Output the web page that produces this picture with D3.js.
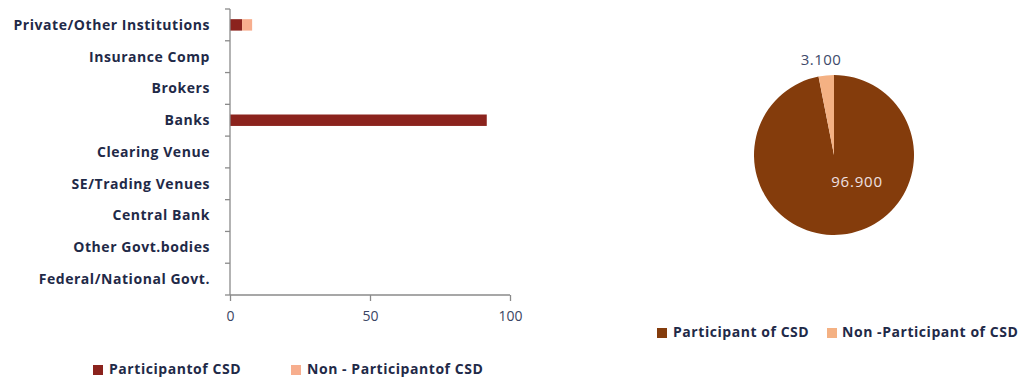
<!DOCTYPE html>
<html>
<head>
<meta charset="utf-8">
<script src="https://cdn.jsdelivr.net/npm/d3@7"></script>
<style>
  html, body { margin: 0; padding: 0; background: #fff; }
  svg { display: block; }
  text { font-family: "Open Sans", Lato, sans-serif; }
</style>
</head>
<body>
<svg id="chart" width="1025" height="380"></svg>
<script>
// Institution categories, top to bottom
const categories = [
  "Private/Other Institutions",
  "Insurance Comp",
  "Brokers",
  "Banks",
  "Clearing Venue",
  "SE/Trading Venues",
  "Central Bank",
  "Other Govt.bodies",
  "Federal/National Govt."
];
const participantValues    = [4.3, 0, 0, 91.7, 0, 0, 0, 0, 0];
const nonParticipantValues = [3.6, 0, 0, 0, 0, 0, 0, 0, 0];
const xTicks = [0, 50, 100];
const barLegend = ["Participantof CSD", "Non - Participantof CSD"];

// Pie shares
const pieLabels = ["Participant of CSD", "Non -Participant of CSD"];
const pieValues = [96.9, 3.1];

const barColors = ["#8B231D", "#F7AE8E"];
const pieColors = ["#843C0C", "#F4B183"];
const textColor = "#1F2A48";
const labelSize = 14, labelSpacing = 0.55;

const svg = d3.select("#chart");

// ---------- Horizontal stacked bar chart ----------
const bx0 = 230, bx1 = 510, by0 = 9, by1 = 295;
const x = d3.scaleLinear().domain([0, 100]).range([bx0, bx1]);
const y = d3.scaleBand().domain(categories).range([by0, by1]).paddingInner(0.64).paddingOuter(0.32);

const stackData = categories.map((c, i) => ({ cat: c, p: participantValues[i], n: nonParticipantValues[i] }));
const stack = d3.stack().keys(["p", "n"])(stackData);

const bars = svg.append("g");
stack.forEach((layer, li) => {
  bars.selectAll(null).data(layer).enter().append("rect")
    .attr("x", d => x(d[0]))
    .attr("y", d => y(d.data.cat))
    .attr("width", d => Math.max(0, x(d[1]) - x(d[0])))
    .attr("height", y.bandwidth())
    .attr("fill", barColors[li]);
});

// Category axis with tick marks between bands
const band = (by1 - by0) / categories.length;
const yAxisG = svg.append("g");
yAxisG.append("line").attr("x1", bx0).attr("x2", bx0).attr("y1", by0).attr("y2", by1)
  .attr("stroke", "#8a8a8a").attr("stroke-width", 1.3);
d3.range(categories.length + 1).forEach(i => {
  yAxisG.append("line").attr("x1", bx0 - 5).attr("x2", bx0).attr("y1", by0 + i * band).attr("y2", by0 + i * band)
    .attr("stroke", "#8a8a8a").attr("stroke-width", 1.3);
});
yAxisG.selectAll("text.cat").data(categories).enter().append("text")
  .attr("class", "cat")
  .attr("x", 210)
  .attr("y", (d, i) => by0 + (i + 0.5) * band)
  .attr("dy", "0.35em")
  .attr("text-anchor", "end")
  .attr("font-size", labelSize)
  .attr("letter-spacing", labelSpacing)
  .attr("font-weight", 700)
  .attr("fill", textColor)
  .text(d => d);

// Value axis
const xAxis = d3.axisBottom(x).tickValues(xTicks).tickSize(6).tickFormat(d3.format("d"));
const xAxisG = svg.append("g").attr("transform", `translate(0,${by1})`).call(xAxis);
xAxisG.select(".domain").attr("stroke", "#8a8a8a").attr("stroke-width", 1.3)
  .attr("d", `M${bx0},0H${bx1}`);
xAxisG.selectAll(".tick line").attr("stroke", "#8a8a8a").attr("stroke-width", 1.3);
xAxisG.selectAll(".tick text")
  .attr("y", 16)
  .attr("font-family", "'Open Sans', sans-serif")
  .attr("font-size", 14)
  .attr("fill", "#3a4563");

// Bar legend
const barLegendPos = [[93, 109], [291, 307]];
barLegend.forEach((t, i) => {
  svg.append("rect").attr("x", barLegendPos[i][0]).attr("y", 365).attr("width", 10).attr("height", 10).attr("fill", barColors[i]);
  svg.append("text").attr("x", barLegendPos[i][1]).attr("y", 369).attr("dy", "0.35em")
    .attr("font-size", labelSize).attr("letter-spacing", labelSpacing)
    .attr("font-weight", 700).attr("fill", textColor).text(t);
});

// ---------- Pie chart ----------
const cx = 834, cy = 155, r = 80;
const pie = d3.pie().sort(null).value(d => d)(pieValues);
const arc = d3.arc().innerRadius(0).outerRadius(r);
const pieG = svg.append("g").attr("transform", `translate(${cx},${cy})`);
pieG.selectAll("path").data(pie).enter().append("path")
  .attr("d", arc)
  .attr("fill", (d, i) => pieColors[i]);

// Value labels
const fmt = d3.format(".3f");
pieG.append("text").attr("x", 23).attr("y", 27).attr("dy", "0.35em").attr("text-anchor", "middle")
  .attr("font-size", 15).attr("letter-spacing", 0.8).attr("fill", "#efe0e2").text(fmt(pieValues[0]));
pieG.append("text").attr("x", -13).attr("y", -95).attr("dy", "0.35em").attr("text-anchor", "middle")
  .attr("font-size", 15).attr("letter-spacing", 0.5).attr("fill", "#404a6a").text(fmt(pieValues[1]));

// Pie legend
const pieLegendPos = [[657, 673], [827, 842]];
pieLabels.forEach((t, i) => {
  svg.append("rect").attr("x", pieLegendPos[i][0]).attr("y", 328).attr("width", 10).attr("height", 10).attr("fill", pieColors[i]);
  svg.append("text").attr("x", pieLegendPos[i][1]).attr("y", 332).attr("dy", "0.35em")
    .attr("font-size", labelSize).attr("letter-spacing", labelSpacing)
    .attr("font-weight", 700).attr("fill", textColor).text(t);
});
</script>
</body>
</html>
